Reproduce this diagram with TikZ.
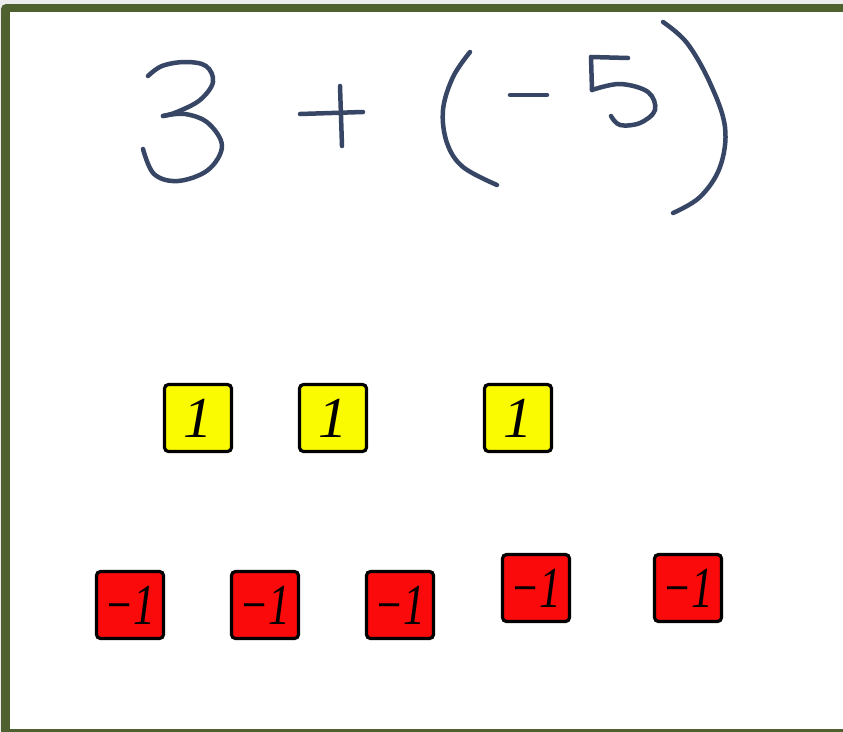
\documentclass[tikz,border=0pt]{standalone}
\usepackage{fontspec}
\setmainfont{Liberation Serif}
\definecolor{frameGreen}{RGB}{80,97,48}
\definecolor{topGrey}{RGB}{236,236,236}
\definecolor{inkBlue}{RGB}{56,70,102}
\definecolor{tileYellow}{RGB}{250,250,0}
\definecolor{tileRed}{RGB}{250,10,10}
\tikzset{
  tile/.style={draw=black, line width=3.2pt, rounded corners=4pt, minimum width=67pt, minimum height=67pt, inner sep=0pt, font=\fontsize{58}{58}\selectfont\itshape},
  postile/.style={tile, fill=tileYellow},
  negtile/.style={tile, fill=tileRed},
  ink/.style={draw=inkBlue, line width=4.5pt, line cap=round, line join=round}
}
\begin{document}
\begin{tikzpicture}[x=1pt,y=-1pt]
\useasboundingbox (0,0) rectangle (843,731);
\clip (0,0) rectangle (843,731);
\fill[topGrey] (0,0) rectangle (843,731);
\fill[frameGreen, rounded corners=5pt] (1,4) rectangle (870,760);
\fill[white] (10,12) rectangle (860,729);
% handwritten expression
\draw[ink] plot[smooth, tension=0.6] coordinates {(148,76) (162,66) (185,62) (206,66) (213,82) (200,100) (177,112) (163,116)};
\draw[ink] plot[smooth, tension=0.6] coordinates {(163,116) (185,114) (208,123) (222,146) (208,170) (178,181) (154,174) (143,149)};
\draw[ink] (300,114) -- (363,112);
\draw[ink] (340,86) -- (342,146);
\draw[ink] plot[smooth, tension=0.6] coordinates {(470,52) (453,77) (443,110) (447,143) (463,167) (497,185)};
\draw[ink] (510,95) -- (547,95);
\draw[ink] (628,58) -- (591,57);
\draw[ink] (591,57) -- (592,90);
\draw[ink] plot[smooth, tension=0.6] coordinates {(592,90) (620,84) (648,92) (655,110) (640,123) (620,125) (611,116)};
\draw[ink] plot[smooth, tension=0.6] coordinates {(663,22) (687,43) (710,83) (725,127) (720,167) (700,197) (673,213)};
% yellow tiles
\node[postile] (y1) at (198,418) {1};
\node[postile] (y2) at (333,418) {1};
\node[postile] (y3) at (518,418) {1};
% red tiles
\node[negtile] (r1) at (130,605) {\scalebox{0.75}[1]{−1}};
\node[negtile] (r2) at (265,605) {\scalebox{0.75}[1]{−1}};
\node[negtile] (r3) at (400,605) {\scalebox{0.75}[1]{−1}};
\node[negtile] (r4) at (536,588) {\scalebox{0.75}[1]{−1}};
\node[negtile] (r5) at (688,588) {\scalebox{0.75}[1]{−1}};
\end{tikzpicture}
\end{document}
